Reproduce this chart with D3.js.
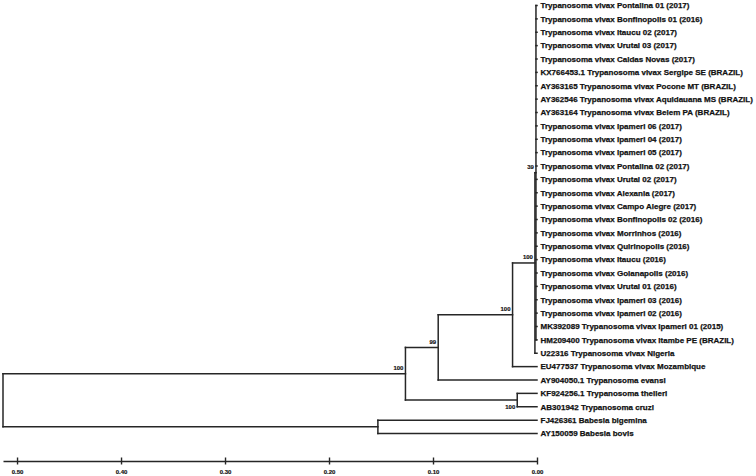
<!DOCTYPE html>
<html>
<head>
<meta charset="utf-8">
<script src="https://cdn.jsdelivr.net/npm/d3@7"></script>
<style>
  body { margin: 0; background: #fff; }
  #tree { width: 756px; height: 476px; }
  .branch { stroke: #262626; stroke-width: 1.5; fill: none; stroke-linecap: square; }
  .leaf-label { font-family: "Liberation Sans", Arial, sans-serif; font-weight: bold; font-size: 8px; fill: #111; stroke: #111; stroke-width: 0.25; }
  .support { font-family: "Liberation Sans", Arial, sans-serif; font-weight: bold; font-size: 6px; fill: #111; stroke: #111; stroke-width: 0.15; }
  .axis path, .axis line { stroke: #262626; stroke-width: 1.4; }
  .axis text { font-family: "Liberation Sans", Arial, sans-serif; font-weight: bold; font-size: 6px; fill: #111; stroke: #111; stroke-width: 0.15; }
</style>
</head>
<body>
<div id="tree"></div>
<script>
// --- Data: internal nodes (order = drawing order of children) ---
const nodeIds     = ['root', 'trypanosoma', 'evansiVivax', 'vivaxA', 'vivaxB', 'vivaxC', 'theileriCruzi', 'babesia'];
const nodeParents = [null,   'root',        'trypanosoma', 'evansiVivax', 'vivaxA', 'vivaxB', 'trypanosoma', 'root'];
const nodeHeights = [0.5135, 0.1265,        0.095,         0.0235,  0.002,    0.001,    0.019,          0.153];
const nodeSupport = [null,   100,           99,            100,     100,      39,       100,            null];

// --- Data: leaves (top to bottom) ---
const leafNames = [
  'Trypanosoma vivax Pontalina 01 (2017)',
  'Trypanosoma vivax Bonfinopolis 01 (2016)',
  'Trypanosoma vivax Itaucu 02 (2017)',
  'Trypanosoma vivax Urutai 03 (2017)',
  'Trypanosoma vivax Caldas Novas (2017)',
  'KX766453.1 Trypanosoma vivax Sergipe SE (BRAZIL)',
  'AY363165 Trypanosoma vivax Pocone MT (BRAZIL)',
  'AY362546 Trypanosoma vivax Aquidauana MS (BRAZIL)',
  'AY363164 Trypanosoma vivax Belem PA (BRAZIL)',
  'Trypanosoma vivax Ipameri 06 (2017)',
  'Trypanosoma vivax Ipameri 04 (2017)',
  'Trypanosoma vivax Ipameri 05 (2017)',
  'Trypanosoma vivax Pontalina 02 (2017)',
  'Trypanosoma vivax Urutai 02 (2017)',
  'Trypanosoma vivax Alexania (2017)',
  'Trypanosoma vivax Campo Alegre (2017)',
  'Trypanosoma vivax Bonfinopolis 02 (2016)',
  'Trypanosoma vivax Morrinhos (2016)',
  'Trypanosoma vivax Quirinopolis (2016)',
  'Trypanosoma vivax Itaucu (2016)',
  'Trypanosoma vivax Goianapolis (2016)',
  'Trypanosoma vivax Urutai 01 (2016)',
  'Trypanosoma vivax Ipameri 03 (2016)',
  'Trypanosoma vivax Ipameri 02 (2016)',
  'MK392089 Trypanosoma vivax Ipameri 01 (2015)',
  'HM209400 Trypanosoma vivax Itambe PE (BRAZIL)',
  'U22316 Trypanosoma vivax Nigeria',
  'EU477537 Trypanosoma vivax Mozambique',
  'AY904050.1 Trypanosoma evansi',
  'KF924256.1 Trypanosoma theileri',
  'AB301942 Trypanosoma cruzi',
  'FJ426361 Babesia bigemina',
  'AY150059 Babesia bovis'
];
const leafParents = [
  ...Array(26).fill('vivaxC'),
  'vivaxB', 'vivaxA', 'evansiVivax', 'theileriCruzi', 'theileriCruzi', 'babesia', 'babesia'
];

// --- Axis ticks ---
const tickValues = [0.50, 0.40, 0.30, 0.20, 0.10, 0.00];

function renderTree() {
  const W = 756, H = 476;
  const svg = d3.select('#tree').append('svg')
      .attr('width', W)
      .attr('height', H);

  // build table for stratify
  const rows = nodeIds.map((id, i) => ({ id, parent: nodeParents[i], height: nodeHeights[i], support: nodeSupport[i] }))
    .concat(leafNames.map((name, i) => ({ id: name, parent: leafParents[i], height: 0, support: null })));

  const root = d3.stratify().id(d => d.id).parentId(d => d.parent)(rows);

  // --- Scales ---
  const x = d3.scaleLinear().domain([nodeHeights[0], 0]).range([3, 537]);
  const leaves = root.leaves();
  const y = d3.scaleLinear().domain([0, leaves.length - 1]).range([5.5, 433.5]);

  leaves.forEach((d, i) => { d.py = y(i); });
  root.eachAfter(d => {
    d.px = x(d.data.height);
    if (d.children) {
      d.py = (d.children[0].py + d.children[d.children.length - 1].py) / 2;
    }
  });

  // --- Branches ---
  const g = svg.append('g');
  root.descendants().forEach(d => {
    if (d.children) {
      g.append('line')
          .attr('class', 'branch')
          .attr('x1', d.px).attr('x2', d.px)
          .attr('y1', d.children[0].py)
          .attr('y2', d.children[d.children.length - 1].py);
    }
    if (d.parent) {
      g.append('line')
          .attr('class', 'branch')
          .attr('x1', d.parent.px).attr('x2', d.px)
          .attr('y1', d.py).attr('y2', d.py);
    }
  });

  // --- Leaf labels ---
  g.selectAll('.leaf-label')
    .data(leaves)
    .enter().append('text')
      .attr('class', 'leaf-label')
      .attr('x', d => d.px + 3.5)
      .attr('y', d => d.py)
      .attr('dy', '0.35em')
      .text(d => d.id);

  // --- Bootstrap support ---
  const supported = root.descendants().filter(d => d.data.support != null);
  g.selectAll('.support')
    .data(supported)
    .enter().append('text')
      .attr('class', 'support')
      .attr('text-anchor', 'end')
      .attr('x', d => d.px - 2)
      .attr('y', d => {
        const upper = d.parent && d.parent.children[0] === d;
        return upper ? d.py - 3.5 : d.py + 8.5;
      })
      .text(d => d.data.support);

  // --- Scale axis ---
  const axis = svg.append('g')
      .attr('class', 'axis')
      .attr('transform', 'translate(0,461)')
      .call(d3.axisBottom(x)
        .tickValues(tickValues)
        .tickSizeInner(3.5)
        .tickSizeOuter(0)
        .tickPadding(5)
        .tickFormat(d3.format('.2f')));
  axis.selectAll('.tick line').attr('y1', -3.5);
}

renderTree();
</script>
</body>
</html>
